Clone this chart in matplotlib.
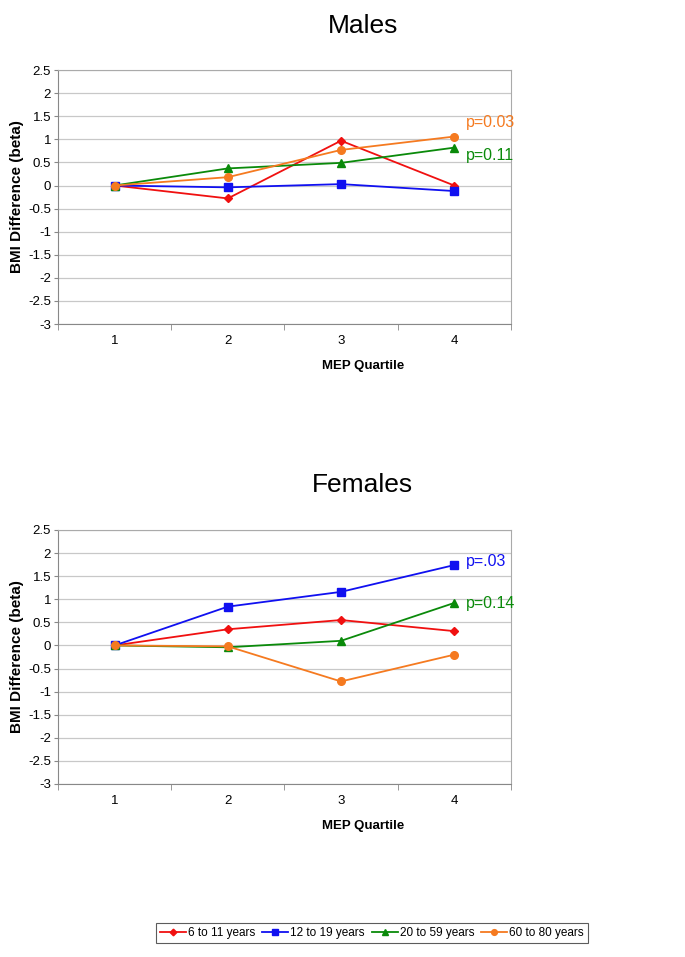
import matplotlib.pyplot as plt
import numpy as np

# ---------------------------------------------------------------------------
# Data
# ---------------------------------------------------------------------------
quartiles = [1, 2, 3, 4]
series_names = ["6 to 11 years", "12 to 19 years", "20 to 59 years", "60 to 80 years"]

males_6_11 = [0.0, -0.28, 0.97, 0.0]
males_12_19 = [0.0, -0.04, 0.03, -0.12]
males_20_59 = [0.0, 0.37, 0.49, 0.82]
males_60_80 = [0.0, 0.18, 0.77, 1.06]

females_6_11 = [0.0, 0.35, 0.55, 0.31]
females_12_19 = [0.0, 0.84, 1.16, 1.74]
females_20_59 = [0.0, -0.04, 0.10, 0.92]
females_60_80 = [0.0, -0.02, -0.78, -0.20]

males_pvals = [("p=0.03", 1.36, 3), ("p=0.11", 0.66, 2)]
females_pvals = [("p=.03", 1.82, 1), ("p=0.14", 0.90, 2)]

yticks = np.arange(-3, 2.51, 0.5)

colors = ["#f01010", "#1010f0", "#0a8a0a", "#f57a20"]
markers = ["D", "s", "^", "o"]
msizes = [4.5, 5.5, 6, 5.5]


def draw_panel(ax, series, pvals, title):
    for vals, name, c, m, ms in zip(series, series_names, colors, markers, msizes):
        ax.plot(quartiles, vals, color=c, marker=m, ms=ms, lw=1.3, label=name)
    for text, y, idx in pvals:
        ax.text(4.1, y, text, color=colors[idx], fontsize=11.5, va="center", ha="left")

    ax.set_xlim(0.5, 4.5)
    ax.set_ylim(-3, 2.5)
    ax.set_yticks(yticks)
    ax.set_yticklabels([f"{v:g}" for v in yticks])
    ax.set_xticks(quartiles)
    ax.set_xticks([0.5, 1.5, 2.5, 3.5, 4.5], minor=True)
    ax.tick_params(axis="x", which="major", length=0, pad=8, labelsize=9.5)
    ax.tick_params(axis="x", which="minor", length=4, color="#888888", direction="out")
    ax.tick_params(axis="y", length=3, color="#888888", labelsize=9.5, pad=2)
    ax.yaxis.grid(True, color="#c8c8c8", lw=0.9)
    ax.set_axisbelow(True)
    for s in ax.spines.values():
        s.set_color("#aaaaaa")
    ax.spines["left"].set_color("#888888")
    ax.spines["bottom"].set_color("#888888")
    ax.set_xlabel("MEP Quartile", fontsize=9.5, fontweight="bold")
    ax.xaxis.set_label_coords(0.673, -0.14)
    ax.set_ylabel("BMI Difference (beta)", fontsize=11, fontweight="bold", labelpad=3)
    ax.set_title(title, fontsize=19, x=0.673, pad=27)


fig = plt.figure(figsize=(6.85, 9.57), dpi=100)
plt.rcParams["font.family"] = ["Liberation Sans", "DejaVu Sans"]

ax1 = fig.add_axes([0.0847, 0.6614, 0.661, 0.2654])
ax2 = fig.add_axes([0.0847, 0.1808, 0.661, 0.2654])

draw_panel(ax1, [males_6_11, males_12_19, males_20_59, males_60_80], males_pvals, "Males")
draw_panel(ax2, [females_6_11, females_12_19, females_20_59, females_60_80], females_pvals, "Females")

handles, labels = ax1.get_legend_handles_labels()
leg = fig.legend(handles, labels, loc="center", bbox_to_anchor=(0.543, 0.025), ncol=4,
                 fontsize=8.5, frameon=True, fancybox=False, edgecolor="#333333",
                 handlelength=2.2, handletextpad=0.15, columnspacing=0.6, borderpad=0.35,
                 borderaxespad=0, markerscale=0.75)
leg.get_frame().set_linewidth(0.8)

fig.savefig("out.png", dpi=100)
